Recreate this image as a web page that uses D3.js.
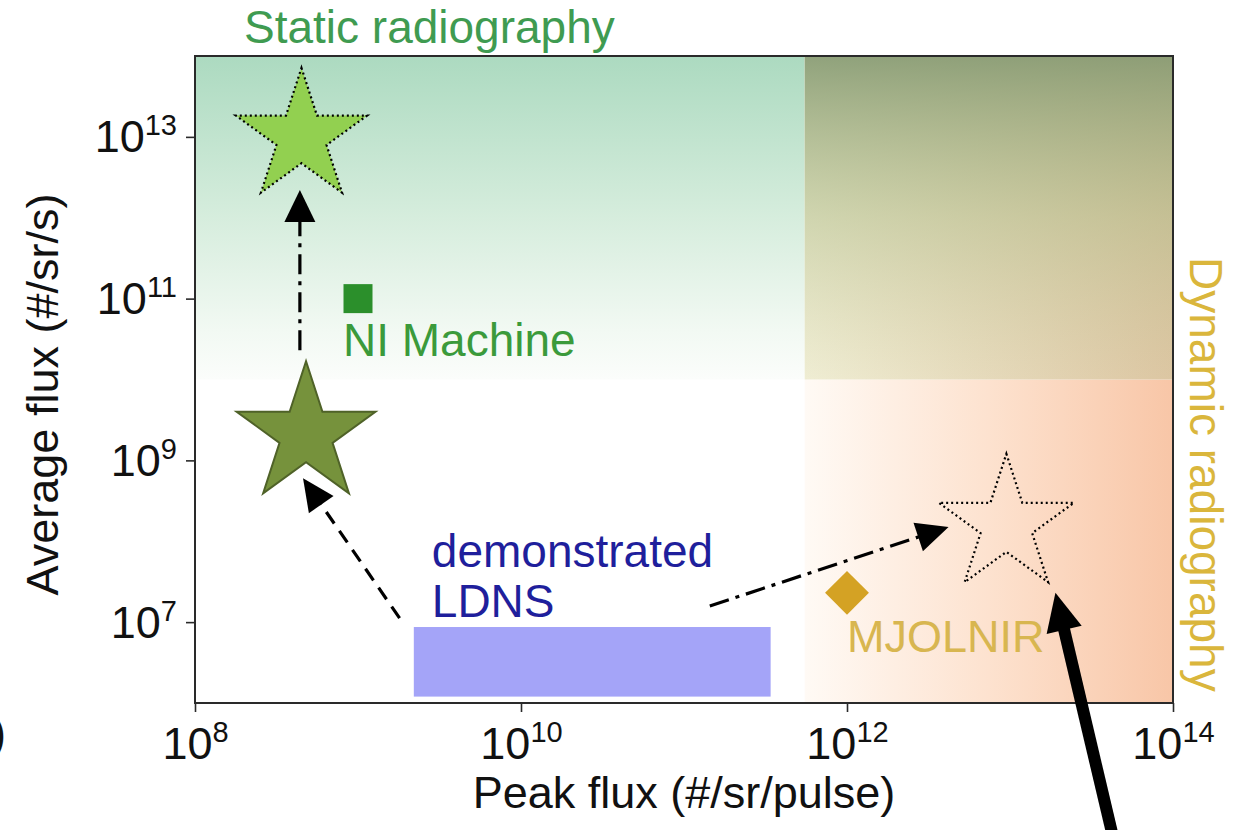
<!DOCTYPE html>
<html>
<head>
<meta charset="utf-8">
<script src="https://cdn.jsdelivr.net/npm/d3@7"></script>
<style>
  body { margin: 0; background: #fff; }
  svg { display: block; font-family: "Liberation Sans", Arial, sans-serif; }
</style>
</head>
<body>
<script>
// ---- data ----
const xTicks = [1e8, 1e10, 1e12, 1e14];
const yTicks = [1e7, 1e9, 1e11, 1e13];

// shaded regimes [xMin, xMax, yMin, yMax]
const staticRegion  = [1e8, 5.5e11, 1e10, 1e14];
const overlapRegion = [5.5e11, 1e14, 1e10, 1e14];
const dynamicRegion = [5.5e11, 1e14, 1e6, 1e10];

// demonstrated LDNS range [xMin, xMax, yMin, yMax]
const ldnsBox = [2.2e9, 3.4e11, 1.2e6, 8.7e6];

// sources
const niMachine = { x: 1e9, y: 1e11 };
const mjolnir = { x: 1e12, y: 2.3e7 };
const stars = [
  { id: "static-goal", x: 4.5e8, y: 1e13 },
  { id: "near-term", x: 4.8e8, y: 2.1e9 },
  { id: "dynamic-goal", x: 9.5e12, y: 1.6e8 }
];

// arrows [from, to]
const arrows = [
  { id: "up", from: [4.4e8, 2.3e10], to: [4.4e8, 2.2e12], dash: "20,7,4,7", w: 3.2, head: 32, hw: 31 },
  { id: "left", from: [1.8e9, 1.12e7], to: [4.6e8, 6e8], dash: "14,9", w: 3.2, head: 32, hw: 30 },
  { id: "right", from: [1.44e11, 1.58e7], to: [4.2e12, 1.5e8], dash: "20,7,4,7", w: 3.2, head: 32, hw: 30 },
  { id: "thick", from: [4.6e13, 1.2e4], to: [1.9e13, 2.3e7], dash: null, w: 12, head: 38, hw: 36 }
];

// ---- setup ----
const W = 1251;
const H = 830;

const svg = d3.select("body")
  .append("svg")
  .attr("width", W)
  .attr("height", H);

const x = d3.scaleLog().domain([1e8, 1e14]).range([195, 1173]);
const y = d3.scaleLog().domain([1e6, 1e14]).range([703, 56]);

const defs = svg.append("defs");

function grad(id, x2, y2, stops) {
  const g = defs.append("linearGradient")
    .attr("id", id)
    .attr("x1", 0).attr("y1", 0)
    .attr("x2", x2).attr("y2", y2);
  stops.forEach(s => {
    g.append("stop")
      .attr("offset", s[0])
      .attr("stop-color", s[1])
      .attr("stop-opacity", s[2] == null ? 1 : s[2]);
  });
}

grad("gStatic", 0, 1, [[0, "#acdac0"], [0.5, "#d6eddd"], [0.85, "#f2f9f3"], [1, "#fbfdfb"]]);
grad("gDynamic", 1, 0, [[0, "#fffaf5"], [0.5, "#fde2cf"], [1, "#f8c6a7"]]);
grad("gOverBase", 1, 0, [[0, "#efedd3"], [1, "#dcc6a2"]]);
grad("gOverTop", 0, 1, [[0, "#839870", 0.88], [0.5, "#aab884", 0.45], [1, "#bcc090", 0]]);

function regionRect(r, fill) {
  svg.append("rect")
    .attr("x", x(r[0]))
    .attr("y", y(r[3]))
    .attr("width", x(r[1]) - x(r[0]))
    .attr("height", y(r[2]) - y(r[3]))
    .attr("fill", fill);
}

regionRect(staticRegion, "url(#gStatic)");
regionRect(dynamicRegion, "url(#gDynamic)");
regionRect(overlapRegion, "url(#gOverBase)");
regionRect(overlapRegion, "url(#gOverTop)");

// LDNS box
svg.append("rect")
  .attr("x", x(ldnsBox[0]))
  .attr("y", y(ldnsBox[3]))
  .attr("width", x(ldnsBox[1]) - x(ldnsBox[0]))
  .attr("height", y(ldnsBox[2]) - y(ldnsBox[3]))
  .attr("fill", "#a4a4f8");

// frame
svg.append("rect")
  .attr("x", x(1e8))
  .attr("y", y(1e14))
  .attr("width", x(1e14) - x(1e8))
  .attr("height", y(1e6) - y(1e14))
  .attr("fill", "none")
  .attr("stroke", "#2a2a2a")
  .attr("stroke-width", 2);

// axes
const xAxis = svg.append("g")
  .attr("transform", `translate(0,${y(1e6)})`)
  .call(d3.axisBottom(x).tickValues(xTicks).tickSize(9).tickFormat(""));

const yAxis = svg.append("g")
  .attr("transform", `translate(${x(1e8)},0)`)
  .call(d3.axisLeft(y).tickValues(yTicks).tickSize(9).tickFormat(""));

[xAxis, yAxis].forEach(a => {
  a.select(".domain").remove();
  a.selectAll(".tick line").attr("stroke", "#2a2a2a").attr("stroke-width", 1.6);
});

function powLabel(sel) {
  sel.append("tspan").text("10");
  sel.append("tspan")
    .attr("dy", -17)
    .attr("font-size", 29)
    .text(d => Math.round(Math.log10(d)));
}

xAxis.selectAll(".tick text")
  .attr("y", 0).attr("dy", null)
  .attr("transform", "translate(0,56)")
  .attr("font-size", 45)
  .attr("fill", "#111")
  .attr("text-anchor", "middle")
  .call(powLabel);

yAxis.selectAll(".tick text")
  .attr("x", -18).attr("dy", null)
  .attr("y", 15)
  .attr("font-size", 45)
  .attr("fill", "#111")
  .attr("text-anchor", "end")
  .call(powLabel);

// axis titles
svg.append("text")
  .text("Peak flux (#/sr/pulse)")
  .attr("x", (x(1e8) + x(1e14)) / 2)
  .attr("y", 808)
  .attr("text-anchor", "middle")
  .attr("font-size", 45)
  .attr("fill", "#111");

svg.append("text")
  .text("Average flux (#/sr/s)")
  .attr("transform", `translate(58,${(y(1e6) + y(1e14)) / 2 + 15}) rotate(-90)`)
  .attr("text-anchor", "middle")
  .attr("font-size", 45)
  .attr("fill", "#111");

// regime labels
svg.append("text")
  .text("Static radiography")
  .attr("x", 244)
  .attr("y", 43)
  .attr("font-size", 46)
  .attr("fill", "#3f9b51");

svg.append("text")
  .text("Dynamic radiography")
  .attr("transform", `translate(1190,257) rotate(90)`)
  .attr("font-size", 46)
  .attr("fill", "#dab63c");

// NI Machine
svg.append("path")
  .attr("d", d3.symbol().type(d3.symbolSquare).size(29 * 29)())
  .attr("transform", `translate(${x(niMachine.x)},${y(niMachine.y)})`)
  .attr("fill", "#2b8f2b");

svg.append("text")
  .text("NI Machine")
  .attr("x", x(niMachine.x) - 15)
  .attr("y", y(niMachine.y) + 57)
  .attr("font-size", 46)
  .attr("fill", "#3b9a3b");

// MJOLNIR
svg.append("path")
  .attr("d", d3.symbol().type(d3.symbolSquare).size(31 * 31)())
  .attr("transform", `translate(${x(mjolnir.x)},${y(mjolnir.y)}) rotate(45)`)
  .attr("fill", "#d4a224");

svg.append("text")
  .text("MJOLNIR")
  .attr("x", x(mjolnir.x))
  .attr("y", y(mjolnir.y) + 59)
  .attr("font-size", 45)
  .attr("fill", "#d8b650");

// LDNS label
const ldnsText = svg.append("text")
  .attr("x", x(ldnsBox[0]) + 18)
  .attr("y", y(ldnsBox[3]) - 60)
  .attr("font-size", 46)
  .attr("fill", "#1f1f9c");
ldnsText.append("tspan").text("demonstrated");
ldnsText.append("tspan").attr("x", x(ldnsBox[0]) + 18).attr("dy", 50).text("LDNS");

// stars
const starR = 0.8908130915292852;
const starStyle = {
  "static-goal": { r: 69, fill: "#92d050", stroke: "#000", sw: 2.2, dash: "2,3" },
  "near-term": { r: 73, fill: "#76923c", stroke: "#4f6228", sw: 2, dash: null },
  "dynamic-goal": { r: 71, fill: "none", stroke: "#000", sw: 2.2, dash: "2,3" }
};

svg.selectAll(".star")
  .data(stars)
  .enter()
  .append("path")
  .attr("class", "star")
  .attr("d", d => d3.symbol().type(d3.symbolStar).size(starStyle[d.id].r ** 2 / starR)())
  .attr("transform", d => `translate(${x(d.x)},${y(d.y)})`)
  .attr("fill", d => starStyle[d.id].fill)
  .attr("stroke", d => starStyle[d.id].stroke)
  .attr("stroke-width", d => starStyle[d.id].sw)
  .attr("stroke-dasharray", d => starStyle[d.id].dash)
  .attr("stroke-linejoin", "miter");

// arrows
arrows.forEach(a => {
  const x0 = x(a.from[0]), y0 = y(a.from[1]);
  const x1 = x(a.to[0]), y1 = y(a.to[1]);
  const len = Math.hypot(x1 - x0, y1 - y0);
  const ux = (x1 - x0) / len, uy = (y1 - y0) / len;
  const bx = x1 - ux * a.head, by = y1 - uy * a.head;
  svg.append("line")
    .attr("x1", x0).attr("y1", y0)
    .attr("x2", bx + ux * 2).attr("y2", by + uy * 2)
    .attr("stroke", "#000")
    .attr("stroke-width", a.w)
    .attr("stroke-dasharray", a.dash);
  const hw = a.hw / 2;
  svg.append("polygon")
    .attr("points", [
      [x1, y1],
      [bx - uy * hw, by + ux * hw],
      [bx + uy * hw, by - ux * hw]
    ].map(p => p.join(",")).join(" "))
    .attr("fill", "#000");
});

// panel letter cut off at the left edge
svg.append("text")
  .text("(b)")
  .attr("x", 6)
  .attr("y", 749)
  .attr("text-anchor", "end")
  .attr("font-size", 46)
  .attr("fill", "#111");
</script>
</body>
</html>
